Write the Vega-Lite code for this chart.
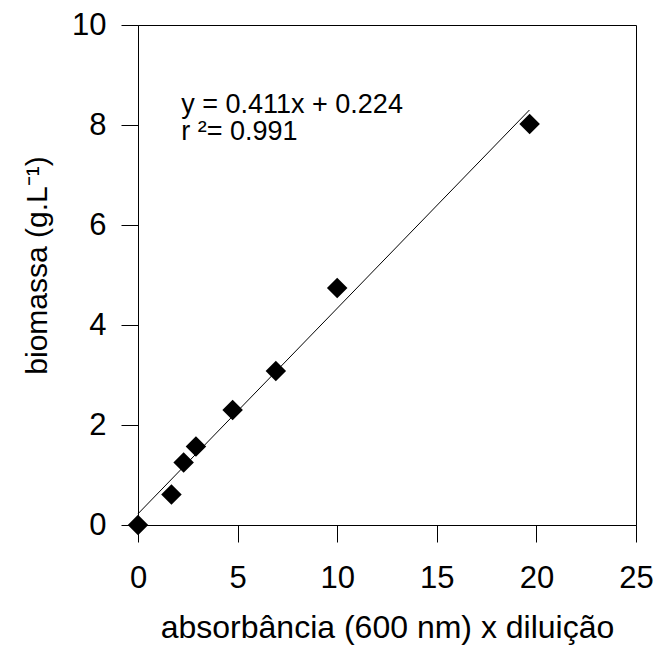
{
  "$schema": "https://vega.github.io/schema/vega-lite/v6.json",
  "width": 498,
  "height": 500,
  "autosize": "none",
  "padding": {"left": 138, "top": 25, "right": 21, "bottom": 125},
  "background": "white",
  "config": {
    "view": {"stroke": "black", "strokeWidth": 1},
    "font": "Liberation Sans",
    "axis": {
      "grid": false,
      "domainColor": "black",
      "tickColor": "black",
      "labelColor": "black",
      "titleColor": "black",
      "labelFont": "Liberation Sans",
      "titleFont": "Liberation Sans",
      "labelFontSize": 31,
      "titleFontSize": 32,
      "titleFontWeight": "normal",
      "labelFlush": false,
      "labelOverlap": false,
      "tickSize": 17
    }
  },
  "datasets": {
    "pts": [
      {"x": 0, "y": 0},
      {"x": 1.68, "y": 0.61},
      {"x": 2.29, "y": 1.25},
      {"x": 2.91, "y": 1.57},
      {"x": 4.75, "y": 2.3},
      {"x": 6.92, "y": 3.08},
      {"x": 10.0, "y": 4.74},
      {"x": 19.66, "y": 8.02}
    ],
    "fit": [
      {"x": 0, "y": 0.224},
      {"x": 19.65, "y": 8.30}
    ],
    "eq": [
      {"x": 2.17, "y": 8.25, "t": "y = 0.411x + 0.224"},
      {"x": 2.17, "y": 7.70, "t": "r ²= 0.991"}
    ]
  },
  "layer": [
    {
      "data": {"name": "fit"},
      "mark": {"type": "line", "color": "black", "strokeWidth": 1},
      "encoding": {
        "x": {"field": "x", "type": "quantitative", "scale": {"domain": [0, 25], "nice": false},
          "axis": {"title": "absorbância (600 nm) x diluição", "values": [0, 5, 10, 15, 20, 25], "labelPadding": 21, "titlePadding": 19}},
        "y": {"field": "y", "type": "quantitative", "scale": {"domain": [0, 10], "nice": false},
          "axis": {"title": "biomassa (g.L⁻¹)", "titleFontSize": 30, "titleY": 240, "values": [0, 2, 4, 6, 8, 10], "labelPadding": 15, "titlePadding": 19}}
      }
    },
    {
      "data": {"name": "pts"},
      "mark": {"type": "point", "shape": "diamond", "filled": true, "color": "black", "size": 420, "opacity": 1},
      "encoding": {
        "x": {"field": "x", "type": "quantitative"},
        "y": {"field": "y", "type": "quantitative"}
      }
    },
    {
      "data": {"name": "eq"},
      "mark": {"type": "text", "align": "left", "baseline": "alphabetic", "fontSize": 27, "color": "black", "font": "Liberation Sans"},
      "encoding": {
        "x": {"field": "x", "type": "quantitative"},
        "y": {"field": "y", "type": "quantitative"},
        "text": {"field": "t"}
      }
    }
  ]
}
